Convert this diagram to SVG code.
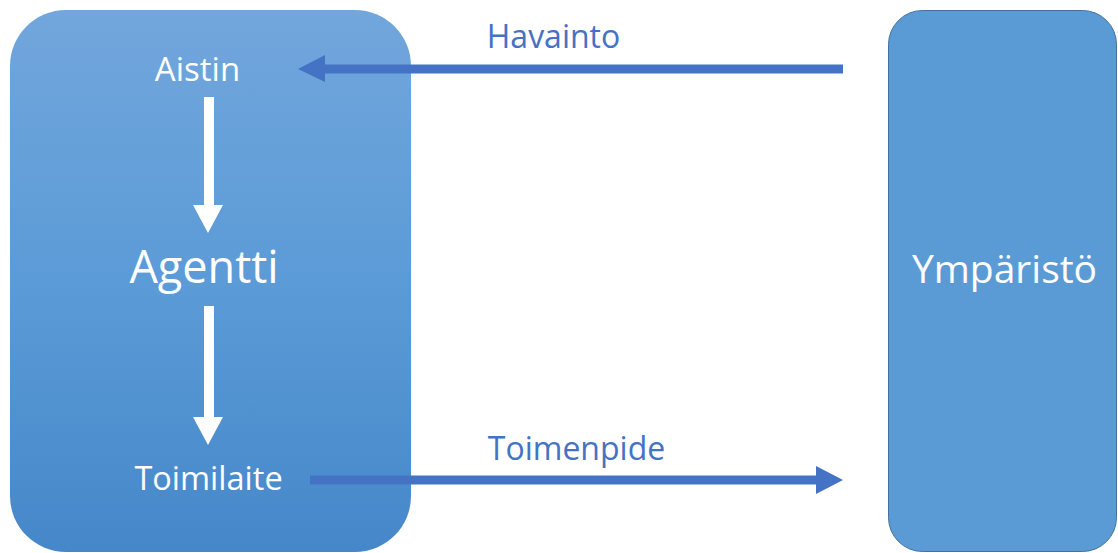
<svg xmlns="http://www.w3.org/2000/svg" width="1118" height="553" viewBox="0 0 1118 553">
  <style>
    .lbl { font-family: "Open Sans", "Liberation Sans", sans-serif; }
    .w { fill: #ffffff; }
    .b { fill: #4472c4; }
  </style>
  <defs>
    <linearGradient id="agentFill" x1="0" y1="0" x2="0" y2="1">
      <stop offset="0" stop-color="#72a6dc"/>
      <stop offset="0.5" stop-color="#5b9bd7"/>
      <stop offset="1" stop-color="#4587c9"/>
    </linearGradient>
  </defs>
  <rect width="1118" height="553" fill="#ffffff"/>

  <g id="agentti">
    <rect x="10" y="10" width="401" height="542" rx="56" ry="56" fill="url(#agentFill)"/>
    <text class="lbl w" x="197.5" y="81" font-size="33" text-anchor="middle">Aistin</text>
    <text class="lbl w" x="204" y="283" font-size="45" text-anchor="middle">Agentti</text>
    <text class="lbl w" x="208.5" y="490" font-size="32.5" text-anchor="middle">Toimilaite</text>
    <!-- internal flow: sensor to agent to actuator -->
    <path d="M204 97 H214 V205 H223 L208 233 L193 205 H204 Z" fill="#ffffff"/>
    <path d="M204 306 H214 V417 H223 L208 445 L193 417 H204 Z" fill="#ffffff"/>
  </g>

  <g id="ymparisto">
    <rect x="888.5" y="10.5" width="228" height="541" rx="34" ry="34" fill="#5b9bd5" stroke="#41719c" stroke-width="1"/>
    <text class="lbl w" x="1004.5" y="283" font-size="39" text-anchor="middle">Ympäristö</text>
  </g>

  <g id="connectors">
    <path d="M843 64.5 V73.5 H325 V82 L298 69 L325 55 V64.5 Z" fill="#4472c4"/>
    <text class="lbl b" x="553.5" y="48" font-size="32" text-anchor="middle">Havainto</text>
    <path d="M310 475.5 V484.5 H816 V494 L843 480 L816 466 V475.5 Z" fill="#4472c4"/>
    <text class="lbl b" x="576.5" y="460" font-size="32" text-anchor="middle">Toimenpide</text>
  </g>
</svg>
